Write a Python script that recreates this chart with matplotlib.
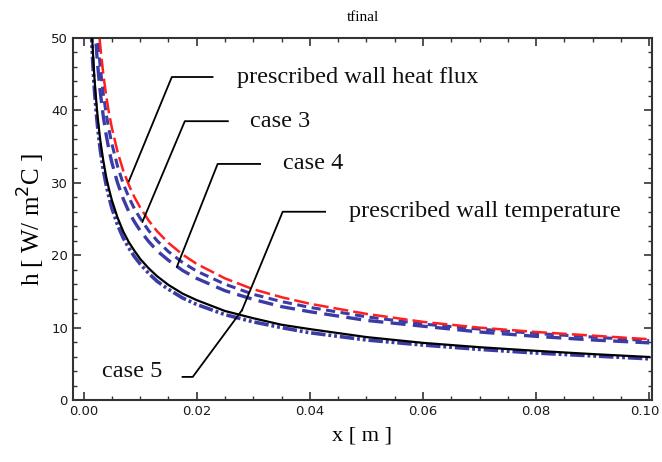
import matplotlib
matplotlib.use("Agg")
import matplotlib.pyplot as plt
import matplotlib.transforms as mtransforms
from matplotlib.ticker import MultipleLocator, FormatStrFormatter

# ---- data ----
x_vals = [0.0010, 0.0012, 0.0015, 0.0018, 0.0020, 0.0023, 0.0025, 0.0028, 0.0030, 0.0035,
          0.0040, 0.0045, 0.0050, 0.0060, 0.0070, 0.0080, 0.0090, 0.0100, 0.0115, 0.0130,
          0.0150, 0.0175, 0.0200, 0.0250, 0.0300, 0.0350, 0.0400, 0.0500,
          0.0600, 0.0700, 0.0800, 0.0900, 0.1000]

h_heat_flux = [84.0, 76.7, 68.6, 62.6, 59.4, 55.4, 53.1, 50.2, 48.5, 44.9,
               42.0, 39.6, 37.6, 34.3, 31.7, 29.7, 28.0, 26.6, 24.8, 23.3,
               21.7, 20.1, 18.8, 16.8, 15.3, 14.2, 13.3, 11.9,
               10.8, 10.0, 9.4, 8.9, 8.4]
h_case3 = [79.0, 72.1, 64.5, 58.8, 55.8, 52.1, 50.0, 47.2, 45.6, 42.2,
           39.5, 37.3, 35.4, 32.3, 29.9, 28.0, 26.4, 25.1, 23.4, 22.0,
           20.5, 19.0, 17.8, 16.0, 14.6, 13.6, 12.8, 11.5,
           10.5, 9.8, 9.2, 8.7, 8.2]
h_case4 = [73.0, 66.7, 59.6, 54.4, 51.6, 48.2, 46.2, 43.7, 42.2, 39.1,
           36.6, 34.5, 32.8, 30.0, 27.8, 26.0, 24.6, 23.4, 21.9, 20.6,
           19.3, 17.9, 16.8, 15.1, 13.9, 12.9, 12.2, 11.0,
           10.2, 9.4, 8.8, 8.3, 7.9]
h_wall_temp = [61.7, 56.3, 50.3, 45.9, 43.6, 40.7, 39.0, 36.9, 35.6, 33.0,
               30.8, 29.1, 27.6, 25.2, 23.3, 21.8, 20.6, 19.5, 18.2, 17.1,
               15.9, 14.7, 13.8, 12.3, 11.3, 10.4, 9.8, 8.7,
               7.9, 7.3, 6.8, 6.35, 5.95]
h_case5 = [59.5, 54.2, 48.5, 44.2, 42.0, 39.2, 37.6, 35.5, 34.3, 31.7,
           29.7, 28.0, 26.5, 24.2, 22.4, 21.0, 19.8, 18.8, 17.5, 16.4,
           15.3, 14.1, 13.2, 11.8, 10.8, 10.0, 9.3, 8.3,
           7.6, 7.0, 6.5, 6.1, 5.7]

x_ticks = [0.00, 0.02, 0.04, 0.06, 0.08, 0.10]
y_ticks = [0, 10, 20, 30, 40, 50]

labels = ["prescribed wall heat flux", "case 3", "case 4",
          "prescribed wall temperature", "case 5"]

# ---- figure ----
fig = plt.figure(figsize=(6.62, 4.62), dpi=100)
ax = fig.add_axes([0.110, 0.134, 0.875, 0.784])

blue = "#3b3ba6"
ax.plot(x_vals, h_case5, color=blue, lw=2.6, dashes=(4, 0.8, 0.8, 0.8, 0.8, 0.8), zorder=2)
ax.plot(x_vals, h_case4, color=blue, lw=2.4, dashes=(4.5, 2.2), zorder=2)
ax.plot(x_vals, h_case3, color=blue, lw=2.2, dashes=(3.0, 1.8), zorder=2)
ax.plot(x_vals, h_wall_temp, color="black", lw=1.6, zorder=3)
ax.plot(x_vals, h_heat_flux, color="#ff1f1f", lw=1.8, dashes=(6, 2), zorder=4)

ax.set_xlim(-0.0019, 0.1005)
ax.set_ylim(0, 50)

ax.set_xticks(x_ticks)
ax.set_yticks(y_ticks)
ax.xaxis.set_minor_locator(MultipleLocator(0.005))
ax.yaxis.set_minor_locator(MultipleLocator(2))
ax.xaxis.set_major_formatter(FormatStrFormatter("%.2f"))
ax.yaxis.set_major_formatter(FormatStrFormatter("%d"))

ax.tick_params(which="both", direction="in", top=True, right=True,
               colors="#333333", labelcolor="#1a1a1a", labelsize=9.5)
ax.tick_params(which="major", length=6, width=1.2)
ax.tick_params(which="minor", length=3, width=1.0)
for s in ax.spines.values():
    s.set_linewidth(1.5)
    s.set_color("#333333")

# nudge the last x tick label slightly left so it stays inside the canvas
last = ax.get_xticklabels()[-1]
last.set_transform(last.get_transform() +
                   mtransforms.ScaledTranslation(-4 / 100, 0, fig.dpi_scale_trans))

serif = ["Liberation Serif", "DejaVu Serif"]
ax.set_title("tfinal", family=serif, fontsize=11, pad=12)
ax.set_xlabel("x [ m ]", family=serif, fontsize=16, labelpad=6)
ax.set_ylabel("h [ W/ m$^2$C ]", family=serif, fontsize=18, labelpad=3)

# ---- annotations with leader lines ----
leaders = [
    ([0.0228, 0.0156, 0.0080], [44.6, 44.6, 30.2]),
    ([0.0255, 0.0179, 0.0104], [38.5, 38.5, 24.6]),
    ([0.0312, 0.0237, 0.0165], [32.6, 32.6, 18.4]),
    ([0.0427, 0.0352, 0.0280], [26.0, 26.0, 12.4]),
    ([0.0175, 0.0193, 0.0280], [3.2, 3.2, 12.4]),
]
for lx, ly in leaders:
    ax.plot(lx, ly, color="black", lw=1.3, zorder=5)

text_pos = [(0.0271, 44.6), (0.0294, 38.5), (0.0352, 32.6), (0.0469, 26.0), (0.0032, 3.9)]
for (tx, ty), lab in zip(text_pos, labels):
    ax.text(tx, ty, lab, family=serif, fontsize=17.5, ha="left", va="center",
            color="#111111", zorder=6)

fig.savefig("out.png", dpi=100)
